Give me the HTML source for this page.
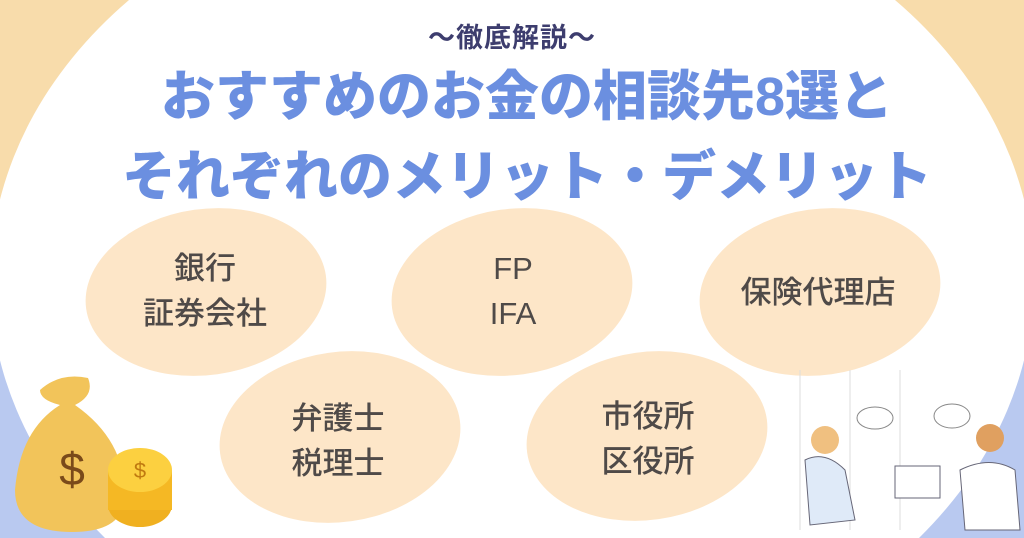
<!DOCTYPE html>
<html style="margin:0;width:1024px;height:538px;overflow:hidden"><head><meta charset="utf-8"><style>
body{margin:0;width:1024px;height:538px;overflow:hidden;position:relative;font-family:"Liberation Sans","Noto Sans CJK JP",sans-serif;}
svg{position:absolute;left:0;top:0;display:block}
.t{position:absolute;left:0;width:1024px;box-sizing:border-box;text-align:center;font-weight:900;color:#6b8fe0;white-space:nowrap;overflow:hidden}
.l{position:absolute;text-align:center;color:#4f4a48;font-size:31px;line-height:45px;font-weight:500;white-space:nowrap}
</style></head><body>
<svg width="1024" height="538" viewBox="0 0 1024 538">
<rect x="0" y="0" width="1024" height="300" fill="#f8dcab"/>
<rect x="0" y="300" width="1024" height="238" fill="#b9c9f0"/>
<path d="M129 0 A522 412 0 0 0 105 538 L919 538 A522 412 0 0 0 895 0 Z" fill="#fff"/>
<ellipse cx="206" cy="292" rx="121" ry="83" fill="#fde6c8" transform="rotate(-8 206 292)"/>
<ellipse cx="512" cy="292" rx="121" ry="83" fill="#fde6c8" transform="rotate(-8 512 292)"/>
<ellipse cx="820" cy="292" rx="121" ry="83" fill="#fde6c8" transform="rotate(-8 820 292)"/>
<ellipse cx="340" cy="437" rx="121" ry="85" fill="#fde6c8" transform="rotate(-8 340 437)"/>
<ellipse cx="647" cy="436" rx="121" ry="84" fill="#fde6c8" transform="rotate(-8 647 436)"/>
<path d="M40 390 Q60 372 88 378 Q95 395 75 405 Q125 440 125 495 Q125 532 72 532 Q15 532 15 490 Q20 430 60 405 Q40 400 40 390Z" fill="#f2c45a"/>
<text x="72" y="485" font-size="46" fill="#7a4a1a" text-anchor="middle" font-family="Liberation Sans">$</text>
<ellipse cx="140" cy="505" rx="32" ry="22" fill="#f0b020"/>
<rect x="108" y="470" width="64" height="40" fill="#f5b824"/>
<ellipse cx="140" cy="470" rx="32" ry="22" fill="#fcd040"/>
<text x="140" y="478" font-size="22" fill="#c07a10" text-anchor="middle">$</text>
<g stroke="#ddd" fill="none"><line x1="800" y1="370" x2="800" y2="530"/><line x1="850" y1="370" x2="850" y2="530"/><line x1="900" y1="370" x2="900" y2="530"/></g>
<ellipse cx="875" cy="418" rx="18" ry="11" fill="#fff" stroke="#888"/>
<ellipse cx="952" cy="416" rx="18" ry="12" fill="#fff" stroke="#888"/>
<circle cx="825" cy="440" r="14" fill="#f0c080"/>
<path d="M805 460 Q825 450 845 470 L855 520 L810 525Z" fill="#dfeaf8" stroke="#667"/>
<circle cx="990" cy="438" r="14" fill="#e0a060"/>
<path d="M960 470 Q990 455 1015 470 L1020 530 L965 530Z" fill="#fff" stroke="#667"/>
<rect x="895" y="466" width="45" height="32" fill="#fff" stroke="#667"/>
</svg>
<div class="t" style="top:16px;font-size:27px;color:#3d3d6e;font-weight:700;letter-spacing:1px">～徹底解説～</div>
<div class="t" style="padding-left:30px;top:64px;font-size:54px;line-height:66px">おすすめのお金の相談先8選と</div>
<div class="t" style="padding-left:30px;top:144px;font-size:54px;line-height:66px">それぞれのメリット・デメリット</div>
<div class="l" style="left:105px;top:246px;width:200px">銀行<br>証券会社</div>
<div class="l" style="left:413px;top:246px;width:200px">FP<br>IFA</div>
<div class="l" style="left:718px;top:270px;width:200px">保険代理店</div>
<div class="l" style="left:238px;top:396px;width:200px">弁護士<br>税理士</div>
<div class="l" style="left:548px;top:394px;width:200px">市役所<br>区役所</div>
</body></html>
